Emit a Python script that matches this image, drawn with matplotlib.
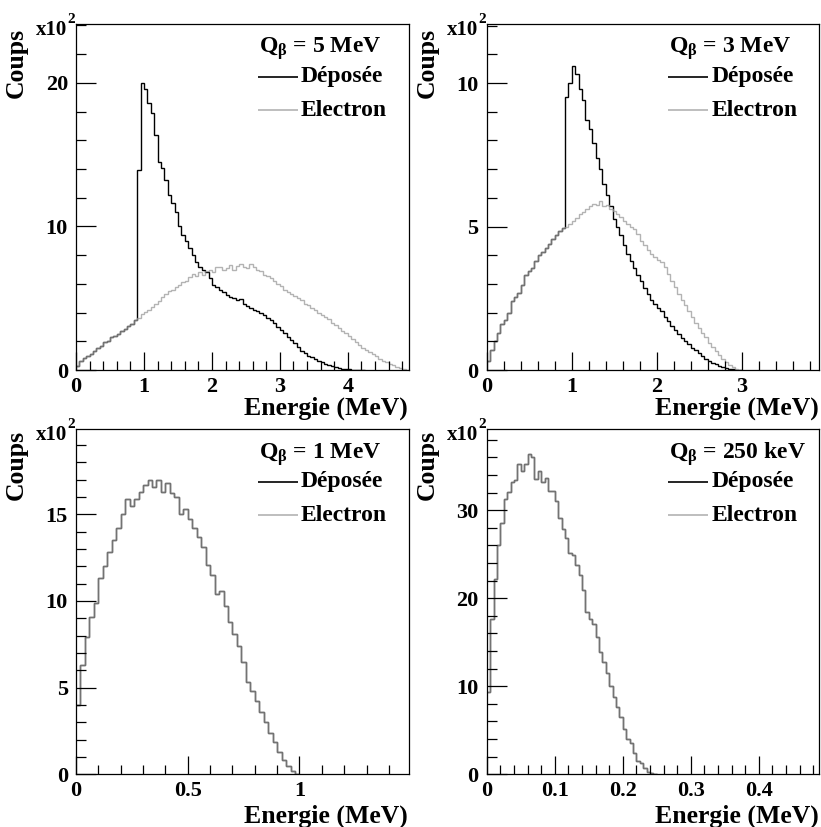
import numpy as np
import matplotlib
matplotlib.use("Agg")
import matplotlib.pyplot as plt
from matplotlib.ticker import MultipleLocator, FuncFormatter

plt.rcParams['font.family'] = ['Liberation Serif', 'DejaVu Serif']
plt.rcParams['font.weight'] = 'bold'
plt.rcParams['mathtext.fontset'] = 'custom'
plt.rcParams['mathtext.rm'] = 'Liberation Serif:bold'
plt.rcParams['mathtext.it'] = 'Liberation Serif:bold'
plt.rcParams['mathtext.bf'] = 'Liberation Serif:bold'

# ---------------- data (counts in units of 10^2) ----------------
# Q = 5 MeV, bin width 0.05 MeV
bin_w_5 = 0.05
elec_5 = [0.3, 0.6, 0.85, 1.0, 1.1, 1.3, 1.55, 1.7, 1.95, 2.05,
          2.3, 2.4, 2.5, 2.75, 2.85, 3.05, 3.2, 3.5, 3.6, 3.9,
          4.05, 4.2, 4.4, 4.6, 4.8, 5.1, 5.3, 5.5, 5.6, 5.75,
          5.9, 6.1, 6.2, 6.5, 6.7, 6.55, 6.8, 6.6, 6.9, 6.95,
          6.85, 7.2, 7.15, 7.0, 7.1, 7.3, 7.0, 7.25, 7.35, 7.2,
          7.1, 7.4, 7.15, 7.0, 6.9, 6.6, 6.55, 6.4, 6.2, 6.0,
          5.85, 5.6, 5.45, 5.3, 5.15, 5.0, 4.85, 4.6, 4.5, 4.35,
          4.2, 4.0, 3.85, 3.7, 3.55, 3.3, 3.15, 2.95, 2.75, 2.55,
          2.35, 2.15, 1.95, 1.75, 1.55, 1.4, 1.25, 1.1, 0.95, 0.8,
          0.65, 0.55, 0.45, 0.32, 0.22, 0.12, 0.05, 0.0]
dep_5_threshold_bin = 18          # below 0.90 MeV deposited == electron
dep_5_high = [13.9, 20.0, 19.6, 18.6, 17.9, 16.4, 14.5, 14.1, 13.2, 12.2,
              11.6, 11.0, 10.0, 9.4, 9.0, 8.5, 8.0, 7.5, 7.2, 7.0,
              6.8, 6.4, 5.9, 5.8, 5.6, 5.4, 5.2, 5.1, 5.0, 4.9,
              4.95, 4.6, 4.45, 4.3, 4.2, 4.1, 3.95, 3.8, 3.6, 3.5,
              3.3, 3.0, 2.8, 2.55, 2.3, 2.1, 1.9, 1.6, 1.35, 1.15,
              1.0, 0.9, 0.75, 0.65, 0.55, 0.45, 0.38, 0.3, 0.22, 0.15,
              0.1, 0.07, 0.05, 0.03, 0.02, 0.01, 0.0]

# Q = 3 MeV, bin width 0.04 MeV
bin_w_3 = 0.04
elec_3 = [0.3, 0.7, 1.0, 1.3, 1.6, 1.75, 2.0, 2.4, 2.55, 2.7,
          2.95, 3.3, 3.45, 3.55, 3.8, 4.0, 4.1, 4.25, 4.4, 4.55,
          4.7, 4.85, 4.95, 5.0, 5.1, 5.2, 5.3, 5.45, 5.5, 5.6,
          5.7, 5.8, 5.75, 5.9, 5.7, 5.75, 5.6, 5.55, 5.45, 5.35,
          5.2, 5.1, 5.0, 4.9, 4.75, 4.5, 4.35, 4.2, 4.05, 3.95,
          3.85, 3.75, 3.6, 3.35, 3.1, 2.9, 2.65, 2.45, 2.25, 2.05,
          1.85, 1.65, 1.45, 1.3, 1.15, 0.95, 0.8, 0.65, 0.52, 0.38,
          0.27, 0.18, 0.1, 0.04, 0.01]
dep_3_threshold_bin = 23          # below 0.92 MeV deposited == electron
dep_3_high = [9.5, 10.0, 10.6, 10.3, 9.8, 9.4, 8.7, 8.4, 7.9, 7.4,
              7.0, 6.5, 6.1, 5.7, 5.25, 5.0, 4.7, 4.35, 4.05, 3.8,
              3.55, 3.3, 3.1, 2.85, 2.65, 2.45, 2.3, 2.15, 2.05, 1.85,
              1.7, 1.55, 1.4, 1.25, 1.12, 1.0, 0.9, 0.78, 0.68, 0.58,
              0.5, 0.4, 0.33, 0.26, 0.2, 0.14, 0.1, 0.06, 0.04, 0.02,
              0.01, 0.0]

# Q = 1 MeV, bin width 0.02 MeV (deposited == electron)
bin_w_1 = 0.02
elec_1 = [4.0, 6.3, 7.9, 9.1, 9.9, 11.3, 12.0, 12.8, 13.5, 14.2,
          15.0, 15.9, 15.5, 15.9, 16.3, 16.7, 17.0, 16.6, 17.0, 16.3,
          16.8, 16.2, 16.0, 15.0, 15.3, 14.7, 14.2, 13.7, 13.1, 12.1,
          11.5, 10.4, 10.6, 9.7, 8.8, 8.1, 7.4, 6.5, 5.3, 4.8,
          4.2, 3.6, 3.0, 2.4, 1.85, 1.3, 0.85, 0.45, 0.18, 0.04]

# Q = 250 keV, bin width 0.005 MeV (deposited == electron)
bin_w_250 = 0.005
elec_250 = [9.4, 17.7, 22.2, 26.0, 28.5, 31.3, 32.1, 33.2, 33.4, 35.3,
            34.5, 35.3, 36.4, 36.1, 33.6, 34.5, 33.2, 33.7, 32.2, 32.2,
            31.1, 29.1, 27.9, 26.8, 25.2, 24.9, 23.8, 22.7, 20.9, 18.4,
            17.7, 17.1, 15.6, 13.9, 12.8, 11.5, 10.0, 8.8, 7.7, 6.5,
            5.2, 4.0, 3.5, 2.4, 1.5, 1.25, 0.7, 0.3, 0.1, 0.0]

q_labels = ["5 MeV", "3 MeV", "1 MeV", "250 keV"]
legend_labels = ["Déposée", "Electron"]
x_title = "Energie (MeV)"
y_title = "Coups"

dep_5 = elec_5[:dep_5_threshold_bin] + dep_5_high
dep_3 = elec_3[:dep_3_threshold_bin] + dep_3_high

panels = [
    dict(bw=bin_w_5, elec=elec_5, dep=dep_5, q=q_labels[0], xlim=4.9, ylim=24.1,
         xmaj=1, xmin=0.2, ymaj=10, ymin=2),
    dict(bw=bin_w_3, elec=elec_3, dep=dep_3, q=q_labels[1], xlim=3.91, ylim=12.06,
         xmaj=1, xmin=0.2, ymaj=5, ymin=1),
    dict(bw=bin_w_1, elec=elec_1, dep=elec_1, q=q_labels[2], xlim=1.49, ylim=19.9,
         xmaj=0.5, xmin=0.1, ymaj=5, ymin=1),
    dict(bw=bin_w_250, elec=elec_250, dep=elec_250, q=q_labels[3], xlim=0.489, ylim=39.2,
         xmaj=0.1, xmin=0.02, ymaj=10, ymin=2),
]

W, H = 821, 827
fig = plt.figure(figsize=(W / 100, H / 100), dpi=100)

# axes boxes in pixels: (left, top, right, bottom)
boxes = [(76, 24, 409, 370), (486.7, 24, 819.3, 370),
         (76, 429.3, 409, 774.3), (486.7, 429.3, 819.3, 774.3)]

GRAY = '#9a9a9a'
GALPHA = 0.75
PX = 72 / 100.0  # points per pixel

fmt = FuncFormatter(lambda v, p: ('%g' % round(v, 6)))

for i, (p, (l, t, r, b)) in enumerate(zip(panels, boxes)):
    ax = fig.add_axes([l / W, 1 - b / H, (r - l) / W, (b - t) / H])
    edges = np.arange(len(p['dep']) + 1) * p['bw']
    ax.stairs(p['dep'], edges, color='black', lw=1.0, baseline=None)
    edges_e = np.arange(len(p['elec']) + 1) * p['bw']
    ax.stairs(p['elec'], edges_e, color=GRAY, alpha=GALPHA, lw=1.0, baseline=None)

    ax.set_xlim(0, p['xlim'])
    ax.set_ylim(0, p['ylim'])
    ax.xaxis.set_major_locator(MultipleLocator(p['xmaj']))
    ax.xaxis.set_minor_locator(MultipleLocator(p['xmin']))
    ax.yaxis.set_major_locator(MultipleLocator(p['ymaj']))
    ax.yaxis.set_minor_locator(MultipleLocator(p['ymin']))
    ax.xaxis.set_major_formatter(fmt)
    ax.yaxis.set_major_formatter(fmt)
    ax.tick_params(axis='x', which='major', direction='in', length=13, width=0.9,
                   top=False, pad=5, labelsize=16)
    ax.tick_params(axis='x', which='minor', direction='in', length=6.5, width=0.9, top=False)
    ax.tick_params(axis='y', which='major', direction='in', length=14.4, width=0.9,
                   right=False, pad=5.8, labelsize=16)
    ax.tick_params(axis='y', which='minor', direction='in', length=7.2, width=0.9, right=False)
    for lab in ax.get_xticklabels() + ax.get_yticklabels():
        lab.set_fontweight('bold')
    for s in ax.spines.values():
        s.set_linewidth(0.9)

    top_panel = i < 2
    # y title
    ax.annotate(y_title, xy=(0, 1), xycoords='axes fraction',
                xytext=(-48 * PX, (-4 if top_panel else -1) * PX), textcoords='offset points',
                rotation=90, ha='right', va='top', fontsize=18.5, fontweight='bold')
    # x10^2
    ax.annotate("x10", xy=(0, 1), xycoords='axes fraction',
                xytext=(-9 * PX, -11 * PX), textcoords='offset points',
                ha='right', va='baseline', fontsize=15, fontweight='bold')
    ax.annotate("2", xy=(0, 1), xycoords='axes fraction',
                xytext=(-8.5 * PX, 1 * PX), textcoords='offset points',
                ha='left', va='baseline', fontsize=11, fontweight='bold')
    # x title
    ax.annotate(x_title, xy=(1, 0), xycoords='axes fraction',
                xytext=(-1 * PX, (-44.5 if top_panel else -48.7) * PX), textcoords='offset points',
                ha='right', va='baseline', fontsize=18.5, fontweight='bold',
                annotation_clip=False)

    # legend block
    wpx = r - l
    hpx = b - t
    xq = (wpx - 150) / wpx
    xl0 = (wpx - 151) / wpx
    xl1 = (wpx - 111) / wpx
    xt = (wpx - 108) / wpx
    ax.text(xq, 1 - 29 / hpx, r"Q$_{\beta}$ = " + p['q'], transform=ax.transAxes,
            ha='left', va='baseline', fontsize=17, fontweight='bold')
    ax.plot([xl0, xl1], [1 - 52.5 / hpx] * 2, transform=ax.transAxes, color='black',
            lw=1.2, clip_on=False, solid_capstyle='butt')
    ax.text(xt, 1 - 58 / hpx, legend_labels[0], transform=ax.transAxes,
            ha='left', va='baseline', fontsize=17, fontweight='bold')
    ax.plot([xl0, xl1], [1 - 86 / hpx] * 2, transform=ax.transAxes, color=GRAY, alpha=GALPHA,
            lw=1.2, clip_on=False, solid_capstyle='butt')
    ax.text(xt, 1 - 92 / hpx, legend_labels[1], transform=ax.transAxes,
            ha='left', va='baseline', fontsize=17, fontweight='bold')

fig.savefig("out.png", dpi=100)
